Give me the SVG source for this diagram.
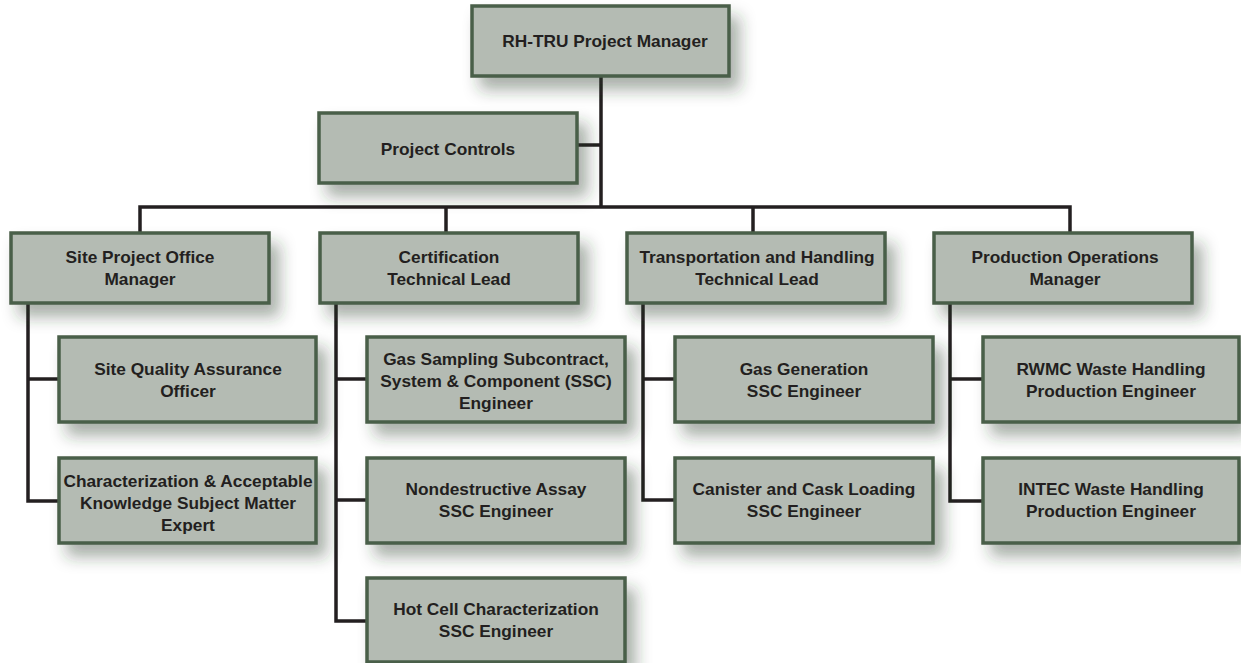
<svg xmlns="http://www.w3.org/2000/svg" width="1241" height="663" viewBox="0 0 1241 663">
<defs>
<filter id="sh" x="-15%" y="-25%" width="140%" height="180%">
<feDropShadow dx="9" dy="12" stdDeviation="8" flood-color="#2a3a2a" flood-opacity="0.4"/>
</filter>
<style>
.box{fill:#b4bbb3;stroke:#4a5e48;stroke-width:3.5;filter:url(#sh);}
.t{font-family:"Liberation Sans",Arial,Helvetica,sans-serif;font-weight:bold;font-size:17.3px;fill:#231f20;text-anchor:middle;}
.c{fill:none;stroke:#231f20;stroke-width:3.5;stroke-linejoin:miter;stroke-linecap:butt;}
</style>
</defs>
<rect width="1241" height="663" fill="#ffffff"/>
<g id="connectors">
<polyline class="c" points="601,76 601,207"/>
<polyline class="c" points="577,145 601,145"/>
<polyline class="c" points="140,233 140,207 1070,207 1070,233"/>
<polyline class="c" points="446,207 446,233"/>
<polyline class="c" points="753,207 753,233"/>
<polyline class="c" points="28,303 28,501 59,501"/>
<polyline class="c" points="28,379 59,379"/>
<polyline class="c" points="336,303 336,621 367,621"/>
<polyline class="c" points="336,379 367,379"/>
<polyline class="c" points="336,500 367,500"/>
<polyline class="c" points="643,303 643,500 675,500"/>
<polyline class="c" points="643,379 675,379"/>
<polyline class="c" points="950,303 950,501 983,501"/>
<polyline class="c" points="950,379 983,379"/>
</g>
<g id="n-pm"><rect class="box" x="472" y="6" width="257" height="70"/><text class="t" x="605" y="47">RH-TRU Project Manager</text></g>
<g id="n-pc"><rect class="box" x="319" y="113" width="258" height="70"/><text class="t" x="448" y="155">Project Controls</text></g>
<g id="n-spo"><rect class="box" x="11" y="233" width="258" height="70"/><text class="t" x="140" y="263">Site Project Office</text><text class="t" x="140" y="285">Manager</text></g>
<g id="n-ctl"><rect class="box" x="320" y="233" width="258" height="70"/><text class="t" x="449" y="263">Certification</text><text class="t" x="449" y="285">Technical Lead</text></g>
<g id="n-thl"><rect class="box" x="627" y="233" width="258" height="70"/><text class="t" x="757" y="263">Transportation and Handling</text><text class="t" x="757" y="285">Technical Lead</text></g>
<g id="n-pom"><rect class="box" x="934" y="233" width="258" height="70"/><text class="t" x="1065" y="263">Production Operations</text><text class="t" x="1065" y="285">Manager</text></g>
<g id="n-sqa"><rect class="box" x="59" y="337" width="257" height="85"/><text class="t" x="188" y="375">Site Quality Assurance</text><text class="t" x="188" y="397">Officer</text></g>
<g id="n-cak"><rect class="box" x="59" y="458" width="257" height="85"/><text class="t" x="188" y="487">Characterization &amp; Acceptable</text><text class="t" x="188" y="509">Knowledge Subject Matter</text><text class="t" x="188" y="531">Expert</text></g>
<g id="n-gss"><rect class="box" x="367" y="337" width="258" height="85"/><text class="t" x="496" y="365">Gas Sampling Subcontract,</text><text class="t" x="496" y="387">System &amp; Component (SSC)</text><text class="t" x="496" y="409">Engineer</text></g>
<g id="n-nda"><rect class="box" x="367" y="458" width="258" height="85"/><text class="t" x="496" y="495">Nondestructive Assay</text><text class="t" x="496" y="517">SSC Engineer</text></g>
<g id="n-hcc"><rect class="box" x="367" y="578" width="258" height="84"/><text class="t" x="496" y="615">Hot Cell Characterization</text><text class="t" x="496" y="637">SSC Engineer</text></g>
<g id="n-gg"><rect class="box" x="675" y="337" width="258" height="85"/><text class="t" x="804" y="375">Gas Generation</text><text class="t" x="804" y="397">SSC Engineer</text></g>
<g id="n-ccl"><rect class="box" x="675" y="458" width="258" height="85"/><text class="t" x="804" y="495">Canister and Cask Loading</text><text class="t" x="804" y="517">SSC Engineer</text></g>
<g id="n-rwmc"><rect class="box" x="983" y="337" width="256" height="85"/><text class="t" x="1111" y="375">RWMC Waste Handling</text><text class="t" x="1111" y="397">Production Engineer</text></g>
<g id="n-intec"><rect class="box" x="983" y="458" width="256" height="85"/><text class="t" x="1111" y="495">INTEC Waste Handling</text><text class="t" x="1111" y="517">Production Engineer</text></g>
</svg>
